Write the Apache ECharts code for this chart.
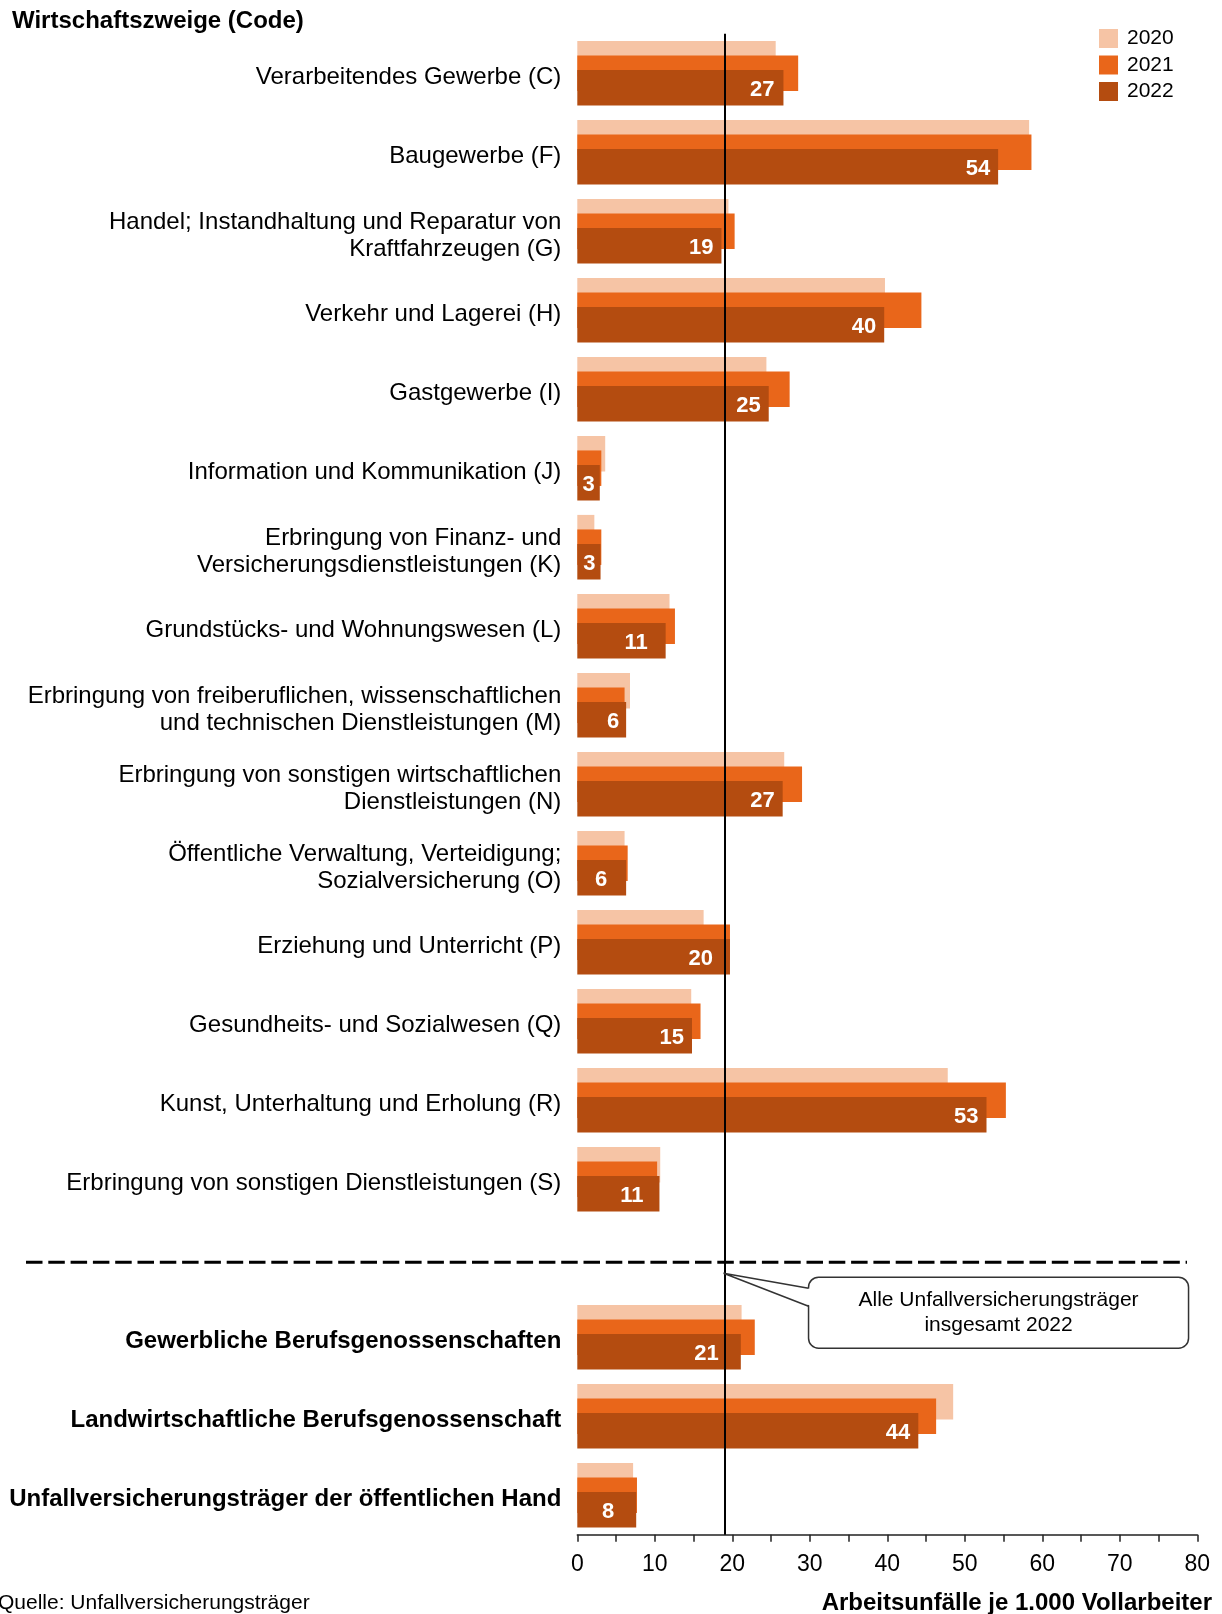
<!DOCTYPE html>
<html>
<head>
<meta charset="utf-8">
<script src="https://cdn.jsdelivr.net/npm/echarts@6/dist/echarts.min.js"></script>
<style>
  html, body { margin: 0; padding: 0; background: #fff; }
  #chart { width: 1222px; height: 1614px; }
</style>
</head>
<body>
<div id="chart"></div>
<script>
// ---- Data ----
const categories = [
  'Verarbeitendes Gewerbe (C)',
  'Baugewerbe (F)',
  'Handel; Instandhaltung und Reparatur von\nKraftfahrzeugen (G)',
  'Verkehr und Lagerei (H)',
  'Gastgewerbe (I)',
  'Information und Kommunikation (J)',
  'Erbringung von Finanz- und\nVersicherungsdienstleistungen (K)',
  'Grundstücks- und Wohnungswesen (L)',
  'Erbringung von freiberuflichen, wissenschaftlichen\nund technischen Dienstleistungen (M)',
  'Erbringung von sonstigen wirtschaftlichen\nDienstleistungen (N)',
  'Öffentliche Verwaltung, Verteidigung;\nSozialversicherung (O)',
  'Erziehung und Unterricht (P)',
  'Gesundheits- und Sozialwesen (Q)',
  'Kunst, Unterhaltung und Erholung (R)',
  'Erbringung von sonstigen Dienstleistungen (S)',
  '',
  'Gewerbliche Berufsgenossenschaften',
  'Landwirtschaftliche Berufsgenossenschaft',
  'Unfallversicherungsträger der öffentlichen Hand'
];
const boldFromIndex = 16;
const spacerIndex = 15;

const years = ['2020', '2021', '2022'];
const values2020 = [25.6, 58.3, 19.5, 39.7, 24.4, 3.6, 2.2, 11.9, 6.8, 26.7, 6.1, 16.3, 14.7, 47.8, 10.7, null, 21.2, 48.5, 7.2];
const values2021 = [28.5, 58.6, 20.3, 44.4, 27.4, 3.1, 3.1, 12.6, 6.1, 29.0, 6.5, 19.7, 15.9, 55.3, 10.3, null, 22.9, 46.3, 7.7];
const values2022 = [26.6, 54.3, 18.6, 39.6, 24.7, 2.9, 3.0, 11.4, 6.3, 26.5, 6.3, 19.7, 14.8, 52.8, 10.6, null, 21.1, 44.0, 7.6];
const totalAll2022 = 19;

const xTicks = [0, 10, 20, 30, 40, 50, 60, 70, 80];

const titleText = 'Wirtschaftszweige (Code)';
const xAxisTitle = 'Arbeitsunfälle je 1.000 Vollarbeiter';
const sourceText = 'Quelle: Unfallversicherungsträger';
const annotationText = 'Alle Unfallversicherungsträger\ninsgesamt 2022';

// ---- Styles ----
const FONT = '"Liberation Sans", Arial, Helvetica, sans-serif';
const colors = ['#F6C4A5', '#E9661A', '#B44C10'];
const LABEL_FS = 22;
const LABEL_DIST = 8;
// horizontal nudges (px) of the 2022 value labels, as placed in the original layout
const labelNudge2022 = [-1, 0, 0, 0, 0, 3, 3, -10, 1, 0, -11, -9, 0, 0, -8, 0, -14, 0, -14];

const chart = echarts.init(document.getElementById('chart'), null, { renderer: 'canvas' });

const barCommon = {
  type: 'bar',
  barWidth: 35.5,
  barGap: '-59%',
  silent: true
};

function labelText(v) { return v == null ? '' : String(Math.round(v)); }

const data2022 = values2022.map(function (v, i) {
  if (v == null) return v;
  return { value: v, label: { offset: [labelNudge2022[i], 2] } };
});

chart.setOption({
  animation: false,
  backgroundColor: '#ffffff',
  textStyle: { fontFamily: FONT },
  grid: { left: 577.3, right: 24.7, top: 33.7, bottom: 79.3, containLabel: false },
  legend: {
    data: years,
    orient: 'vertical',
    left: 1094,
    top: 23,
    icon: 'rect',
    itemWidth: 19,
    itemHeight: 19,
    itemGap: 5.5,
    textStyle: { fontSize: 21, color: '#000', fontFamily: FONT, padding: [0, 0, 0, 4] },
    selectedMode: false
  },
  xAxis: {
    type: 'value',
    min: xTicks[0],
    max: xTicks[xTicks.length - 1],
    interval: 5,
    splitLine: { show: false },
    axisLine: { show: true, lineStyle: { color: '#222', width: 1.5 } },
    axisTick: { show: true, inside: false, length: 7, lineStyle: { color: '#222', width: 1.5 } },
    axisLabel: {
      margin: 18,
      fontSize: 23,
      color: '#000',
      fontFamily: FONT,
      formatter: function (v) { return xTicks.indexOf(v) >= 0 ? String(v) : ''; }
    }
  },
  yAxis: {
    type: 'category',
    inverse: true,
    data: categories,
    axisLine: { show: false },
    axisTick: { show: false },
    axisLabel: {
      margin: 16,
      fontSize: 24,
      lineHeight: 27.5,
      color: '#000',
      fontFamily: FONT,
      align: 'right',
      padding: [9, 0, 0, 0],
      formatter: function (v, i) {
        if (i >= boldFromIndex) return '{b|' + v + '}';
        return v;
      },
      rich: {
        b: { fontSize: 24, fontWeight: 'bold', color: '#000', fontFamily: FONT, lineHeight: 27.5 }
      }
    }
  },
  series: [
    Object.assign({}, barCommon, {
      name: years[0],
      data: values2020,
      itemStyle: { color: colors[0] }
    }),
    Object.assign({}, barCommon, {
      name: years[1],
      data: values2021,
      itemStyle: { color: colors[1] }
    }),
    Object.assign({}, barCommon, {
      name: years[2],
      data: data2022,
      itemStyle: { color: colors[2] },
      label: {
        show: true,
        position: 'insideRight',
        distance: LABEL_DIST,
        offset: [0, 2],
        color: '#fff',
        fontWeight: 'bold',
        fontSize: LABEL_FS,
        fontFamily: FONT,
        formatter: function (p) { return labelText(p.value); }
      },
      markLine: {
        silent: true,
        symbol: 'none',
        z: 10,
        label: { show: false },
        lineStyle: { color: '#000', width: 2, type: 'solid' },
        data: [{ xAxis: totalAll2022 }]
      }
    })
  ]
});

// ---- Annotation positions derived from the library's scales ----
const xAvgPx = chart.convertToPixel({ xAxisIndex: 0 }, totalAll2022);
const bandY = chart.convertToPixel({ yAxisIndex: 0 }, spacerIndex);

const lineY = bandY + 4;
const apexX = xAvgPx - 1;
const apexY = lineY + 11;
const boxX = xAvgPx + 84;
const boxY = lineY + 15;
const boxW = 380;
const boxH = 71;

chart.setOption({
  graphic: [
    {
      type: 'text', z: 100,
      style: { text: titleText, x: 12, y: 21, font: 'bold 24px ' + FONT, fill: '#000', align: 'left', verticalAlign: 'middle' }
    },
    {
      type: 'line', z: 100,
      shape: { x1: 26, y1: lineY, x2: 1187, y2: lineY },
      style: { stroke: '#000', lineWidth: 3, lineDash: [16.5, 5.8] }
    },
    {
      type: 'rect', z: 100,
      shape: { x: boxX, y: boxY, width: boxW, height: boxH, r: 10 },
      style: { fill: '#fff', stroke: '#333', lineWidth: 1.5 }
    },
    {
      type: 'polygon', z: 101,
      shape: { points: [[apexX, apexY], [boxX + 2, lineY + 26.5], [boxX + 2, lineY + 43.5]] },
      style: { fill: '#fff', stroke: null }
    },
    {
      type: 'polyline', z: 102,
      shape: { points: [[boxX, lineY + 26], [apexX, apexY], [boxX, lineY + 44]] },
      style: { stroke: '#333', lineWidth: 1.5, fill: null }
    },
    {
      type: 'text', z: 103,
      style: { text: annotationText, x: boxX + boxW / 2, y: boxY + boxH / 2, font: '21px ' + FONT, lineHeight: 25, fill: '#000', align: 'center', verticalAlign: 'middle' }
    },
    {
      type: 'text', z: 100,
      style: { text: sourceText, x: -2, y: 1603, font: '21px ' + FONT, fill: '#000', align: 'left', verticalAlign: 'middle' }
    },
    {
      type: 'text', z: 100,
      style: { text: xAxisTitle, x: 1212, y: 1603, font: 'bold 24px ' + FONT, fill: '#000', align: 'right', verticalAlign: 'middle' }
    }
  ]
});
</script>
</body>
</html>
